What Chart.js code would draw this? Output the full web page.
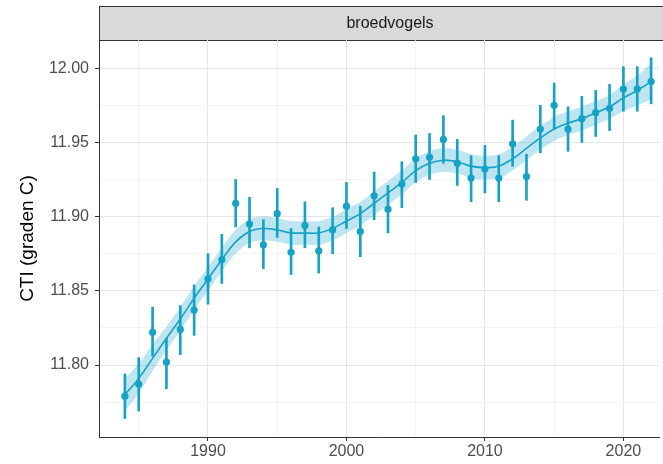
<!DOCTYPE html>
<html>
<head>
<meta charset="utf-8">
<title>CTI broedvogels</title>
<script src="https://cdn.jsdelivr.net/npm/chart.js@4.4.1/dist/chart.umd.min.js"></script>
<style>
  html, body { margin: 0; padding: 0; background: #ffffff; overflow: hidden; }
  #wrap { width: 663px; height: 464px; }
</style>
</head>
<body>
<div id="wrap"><canvas id="cti" width="663" height="464"></canvas></div>
<script>
// yearly index with its interval, and the smoothed trend with its band
const years = [1984, 1985, 1986, 1987, 1988, 1989, 1990, 1991, 1992, 1993,
  1994, 1995, 1996, 1997, 1998, 1999, 2000, 2001, 2002, 2003,
  2004, 2005, 2006, 2007, 2008, 2009, 2010, 2011, 2012, 2013,
  2014, 2015, 2016, 2017, 2018, 2019, 2020, 2021, 2022];

const cti = [11.779, 11.787, 11.822, 11.802, 11.824, 11.837, 11.858, 11.871, 11.909, 11.895,
  11.881, 11.902, 11.876, 11.894, 11.877, 11.891, 11.907, 11.890, 11.914, 11.905,
  11.922, 11.939, 11.940, 11.952, 11.936, 11.926, 11.932, 11.926, 11.949, 11.927,
  11.959, 11.975, 11.959, 11.966, 11.970, 11.973, 11.986, 11.986, 11.991];

const ctiLow = [11.764, 11.769, 11.806, 11.784, 11.807, 11.820, 11.841, 11.855, 11.893, 11.879,
  11.865, 11.886, 11.861, 11.879, 11.862, 11.875, 11.892, 11.873, 11.898, 11.889,
  11.906, 11.923, 11.925, 11.936, 11.921, 11.910, 11.916, 11.910, 11.934, 11.911,
  11.943, 11.959, 11.944, 11.950, 11.954, 11.958, 11.971, 11.971, 11.976];

const ctiHigh = [11.794, 11.805, 11.839, 11.818, 11.840, 11.854, 11.875, 11.888, 11.925, 11.913,
  11.898, 11.919, 11.892, 11.910, 11.893, 11.906, 11.923, 11.907, 11.930, 11.921,
  11.937, 11.955, 11.956, 11.968, 11.952, 11.941, 11.948, 11.941, 11.965, 11.942,
  11.975, 11.990, 11.974, 11.981, 11.985, 11.989, 12.001, 12.001, 12.007];

const trend = [11.780, 11.791, 11.8045, 11.818, 11.831, 11.845, 11.858, 11.871, 11.883, 11.890,
  11.892, 11.891, 11.889, 11.889, 11.889, 11.892, 11.897, 11.902, 11.909, 11.916,
  11.923, 11.931, 11.936, 11.938, 11.937, 11.934, 11.933, 11.934, 11.939, 11.946,
  11.953, 11.959, 11.963, 11.966, 11.970, 11.974, 11.980, 11.985, 11.991];

const trendLow = [11.769, 11.781, 11.796, 11.810, 11.823, 11.837, 11.850, 11.863, 11.875, 11.882,
  11.884, 11.883, 11.881, 11.881, 11.881, 11.884, 11.889, 11.894, 11.901, 11.908,
  11.915, 11.923, 11.928, 11.930, 11.929, 11.926, 11.925, 11.926, 11.931, 11.938,
  11.945, 11.951, 11.955, 11.958, 11.962, 11.966, 11.971, 11.975, 11.979];

const trendHigh = [11.791, 11.801, 11.814, 11.826, 11.839, 11.853, 11.866, 11.879, 11.891, 11.898,
  11.900, 11.899, 11.897, 11.897, 11.897, 11.900, 11.905, 11.910, 11.917, 11.924,
  11.931, 11.939, 11.944, 11.946, 11.945, 11.942, 11.941, 11.942, 11.947, 11.954,
  11.961, 11.967, 11.971, 11.974, 11.978, 11.982, 11.989, 11.995, 12.003];

const panelLabel = 'broedvogels';
const yTitle = 'CTI (graden C)';

const blue = '#14a2c7';
const band = 'rgba(20, 162, 199, 0.27)';
const fontFamily = '"Liberation Sans", Arial, Helvetica, sans-serif';

const pts = (ys) => years.map((yr, i) => ({ x: yr, y: ys[i] }));

// grey facet strip above the panel, like ggplot's facet_wrap
const facetStrip = {
    id: 'facetStrip',
    beforeDraw: function (chart) {
        const ctx = chart.ctx;
        const area = chart.chartArea;
        ctx.save();
        ctx.fillStyle = '#d9d9d9';
        ctx.fillRect(area.left, 6, chart.width - area.left + 2, area.top - 6);
        ctx.strokeStyle = '#333333';
        ctx.lineWidth = 1;
        ctx.strokeRect(area.left + 0.5, 6.5, chart.width, area.top - 6);
        ctx.fillStyle = '#1a1a1a';
        ctx.font = '16px ' + fontFamily;
        ctx.textAlign = 'center';
        ctx.textBaseline = 'middle';
        ctx.fillText(panelLabel, 390, 24);
        ctx.restore();
    }
};

const isMajorX = (c) => !c.tick || Math.round(c.tick.value) % 10 === 0;
const isMajorY = (c) => !c.tick || Math.round(c.tick.value * 1000) % 50 === 0;

new Chart(document.getElementById('cti'), {
    type: 'line',
    data: {
        datasets: [
            {
                label: 'CTI',
                data: pts(cti),
                showLine: false,
                pointRadius: 3.6,
                pointBackgroundColor: blue,
                pointBorderWidth: 0,
                order: 0
            },
            {
                label: 'trend',
                data: pts(trend),
                borderColor: blue,
                borderWidth: 1.6,
                pointRadius: 0,
                tension: 0.4,
                fill: false,
                order: 1
            },
            {
                type: 'bar',
                label: 'interval',
                data: years.map((yr, i) => ({ x: yr, y: [ctiLow[i], ctiHigh[i]] })),
                backgroundColor: blue,
                borderWidth: 0,
                barThickness: 2,
                order: 2
            },
            {
                label: 'trend upper',
                data: pts(trendHigh),
                borderWidth: 0,
                borderColor: 'rgba(0,0,0,0)',
                pointRadius: 0,
                tension: 0.4,
                backgroundColor: band,
                fill: '+1',
                order: 3
            },
            {
                label: 'trend lower',
                data: pts(trendLow),
                borderWidth: 0,
                borderColor: 'rgba(0,0,0,0)',
                pointRadius: 0,
                tension: 0.4,
                fill: false,
                order: 4
            }
        ]
    },
    options: {
        responsive: false,
        animation: false,
        layout: { padding: { top: 40, right: 0, bottom: 0, left: 0 } },
        plugins: {
            legend: { display: false },
            tooltip: { enabled: false }
        },
        scales: {
            x: {
                type: 'linear',
                min: 1982.13,
                max: 2022.57,
                offset: false,
                ticks: {
                    stepSize: 5,
                    includeBounds: false,
                    autoSkip: false,
                    maxRotation: 0,
                    padding: 1,
                    color: '#4d4d4d',
                    font: { family: fontFamily, size: 16 },
                    callback: (v) => Math.round(v) % 10 === 0 ? String(v) : ''
                },
                grid: {
                    offset: false,
                    color: (c) => isMajorX(c) ? '#e6e6e6' : '#f3f3f3',
                    lineWidth: (c) => isMajorX(c) ? 1 : 0.8,
                    tickLength: 4,
                    tickColor: (c) => isMajorX(c) ? '#333333' : 'rgba(0,0,0,0)'
                },
                border: { color: '#333333', width: 1 },
                afterFit: function (scale) { scale.height = 27; }
            },
            y: {
                type: 'linear',
                min: 11.7515,
                max: 12.019,
                ticks: {
                    stepSize: 0.025,
                    includeBounds: false,
                    autoSkip: false,
                    padding: 6,
                    color: '#4d4d4d',
                    font: { family: fontFamily, size: 16 },
                    callback: (v) => Math.round(v * 1000) % 50 === 0 ? v.toFixed(2) : ''
                },
                grid: {
                    color: (c) => isMajorY(c) ? '#e6e6e6' : '#f3f3f3',
                    lineWidth: (c) => isMajorY(c) ? 1 : 0.8,
                    tickLength: 4,
                    tickColor: (c) => isMajorY(c) ? '#333333' : 'rgba(0,0,0,0)'
                },
                border: { color: '#333333', width: 1 },
                title: {
                    display: true,
                    text: yTitle,
                    color: '#000000',
                    font: { family: fontFamily, size: 19 },
                    padding: { top: 16, bottom: 0 }
                },
                afterFit: function (scale) { scale.width = 99; }
            }
        }
    },
    plugins: [facetStrip]
});
</script>
</body>
</html>
